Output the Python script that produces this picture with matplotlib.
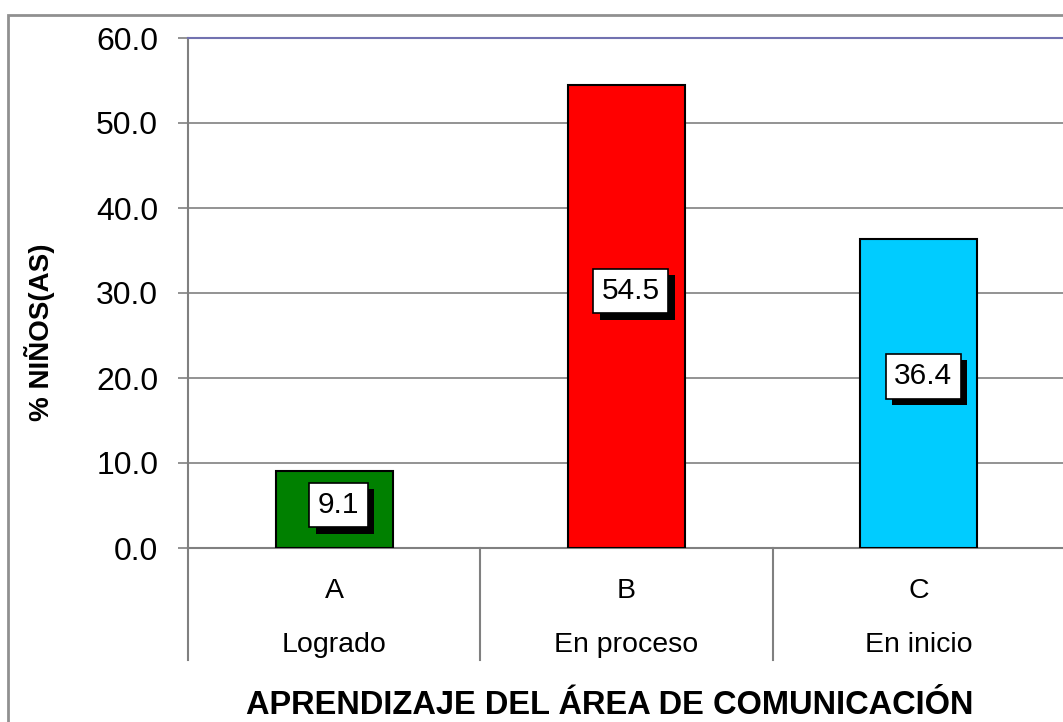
import matplotlib.pyplot as plt
import matplotlib.patheffects as pe
from matplotlib.patches import Rectangle

plt.rcParams['font.family'] = ['Liberation Sans', 'DejaVu Sans']

letras = ['A', 'B', 'C']
niveles = ['Logrado', 'En proceso', 'En inicio']
porcentajes = [9.1, 54.5, 36.4]
colores = ['#008000', '#FF0000', '#00CCFF']
yticks = [0, 10, 20, 30, 40, 50, 60]

W, H = 1063, 722
fig = plt.figure(figsize=(W / 100, H / 100), dpi=100)

# plot area runs a little past the right edge, like the original
ax = fig.add_axes([188 / W, 174 / H, (1065 - 188) / W, 510 / H])

x = list(range(len(letras)))
ax.bar(x, porcentajes, width=0.40, color=colores, edgecolor='black', linewidth=1.5, zorder=3)

ax.set_xlim(-0.5, 2.5)
ax.set_ylim(0, 60)
ax.set_yticks(yticks)
ax.set_yticklabels([f'{v:.1f}' for v in yticks], fontsize=23)
ax.tick_params(axis='y', length=7.5, width=1.2, color='#808080', pad=14)
ax.set_xticks([])
ax.yaxis.grid(True, color='#808080', linewidth=1.2, zorder=0)

for s in ['left', 'bottom']:
    ax.spines[s].set_color('#808080')
    ax.spines[s].set_linewidth(1.5)
ax.spines['top'].set_color('#7272b0')
ax.spines['top'].set_linewidth(1.5)
ax.spines['right'].set_visible(False)

# etiquetas de valor con sombra
for xi, v in zip(x, porcentajes):
    t = ax.text(xi + 0.015, v * 0.555, f'{v:.1f}', ha='center', va='center', fontsize=21.5, zorder=5,
                bbox=dict(boxstyle='square,pad=0.28', fc='white', ec='black', lw=1.2))
    t.get_bbox_patch().set_path_effects([
        pe.SimplePatchShadow(offset=(4.5, -4.5), shadow_rgbFace='black', alpha=1.0),
        pe.Normal()])

# eje de categorias de dos niveles
tr = ax.get_xaxis_transform()
for xi, l, n in zip(x, letras, niveles):
    ax.text(xi, -0.084, l, transform=tr, ha='center', va='center', fontsize=20.5)
    ax.text(xi, -0.19, n, transform=tr, ha='center', va='center', fontsize=20.5)
for xs in [-0.5, 0.5, 1.5]:
    ax.plot([xs, xs], [0, -0.22], transform=tr, color='#808080', lw=1.5, clip_on=False)

fig.text(610 / W, 1 - 706 / H, 'APRENDIZAJE DEL ÁREA DE COMUNICACIÓN',
         ha='center', va='center', fontsize=23.5, fontweight='bold')
fig.text(40 / W, 1 - 332 / H, '% NIÑOS(AS)', ha='center', va='center',
         rotation=90, fontsize=20, fontweight='bold')

# borde exterior del grafico
fig.patches.append(Rectangle((8 / W, -0.1), 1.2, 1.1 - 15 / H, transform=fig.transFigure,
                             fill=False, ec='#909090', lw=2))

fig.savefig('out.png', dpi=100)
